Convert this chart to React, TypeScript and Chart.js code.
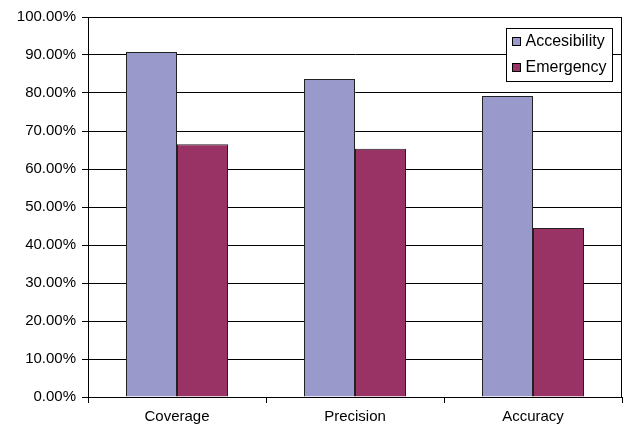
import React, { useEffect, useRef } from "react";
import { Chart, registerables } from "chart.js";

Chart.register(...registerables);

const categories = ["Coverage", "Precision", "Accuracy"];
const accesibility = [90.8, 83.7, 79.2];
const emergency = [66.5, 65.3, 44.5];
const seriesNames = ["Accesibility", "Emergency"];
const seriesColors = ["#9999CC", "#993366"];
const FONT = "'Liberation Sans', Arial, sans-serif";

const frameLegend = {
  id: "frameLegend",
  afterDraw(chart: any) {
    const { ctx, chartArea } = chart;
    ctx.save();
    ctx.strokeStyle = "#000";
    ctx.lineWidth = 1;
    ctx.strokeRect(
      Math.round(chartArea.left) + 0.5,
      Math.round(chartArea.top) + 0.5,
      Math.round(chartArea.right - chartArea.left) - 1,
      Math.round(chartArea.bottom - chartArea.top)
    );
    // legend box
    const bx = Math.round(chartArea.right) - 115.5;
    const by = Math.round(chartArea.top) + 11.5;
    const bw = 106;
    const bh = 53;
    ctx.fillStyle = "#fff";
    ctx.fillRect(bx, by, bw, bh);
    ctx.strokeRect(bx, by, bw, bh);
    ctx.font = `16px ${FONT}`;
    ctx.textBaseline = "middle";
    seriesNames.forEach((name, i) => {
      const cy = by + 13 + i * 26;
      ctx.fillStyle = seriesColors[i];
      ctx.fillRect(bx + 6, cy - 4, 8, 8);
      ctx.strokeStyle = "#000";
      ctx.strokeRect(bx + 6, cy - 4, 8, 8);
      ctx.fillStyle = "#000";
      ctx.fillText(name, bx + 19, cy + 0.5, bw - 22);
    });
    ctx.restore();
  },
};

export default function App() {
  const ref = useRef<HTMLCanvasElement>(null);
  useEffect(() => {
    document.body.style.margin = "0";
    const chart = new Chart(ref.current!, {
      type: "bar",
      data: {
        labels: categories,
        datasets: [
          {
            label: seriesNames[0],
            data: accesibility,
            backgroundColor: seriesColors[0],
            borderColor: "#222",
            borderWidth: 1,
            categoryPercentage: 0.573,
            barPercentage: 1,
          },
          {
            label: seriesNames[1],
            data: emergency,
            backgroundColor: seriesColors[1],
            borderColor: "#222",
            borderWidth: 1,
            categoryPercentage: 0.573,
            barPercentage: 1,
          },
        ],
      },
      options: {
        animation: false,
        responsive: false,
        maintainAspectRatio: false,
        layout: { padding: { top: 17, right: 4, left: 0, bottom: 0 } },
        plugins: { legend: { display: false }, tooltip: { enabled: false } },
        scales: {
          x: {
            offset: true,
            grid: {
              offset: true,
              drawOnChartArea: false,
              drawTicks: true,
              tickLength: 6,
              color: "#000",
            },
            border: { color: "#000" },
            ticks: {
              color: "#000",
              font: { family: FONT, size: 15 },
              padding: 5,
            },
            afterFit(scale: any) {
              scale.height = 31;
            },
          },
          y: {
            min: 0,
            max: 100,
            grid: { color: "#000", tickLength: 6 },
            border: { color: "#000" },
            ticks: {
              stepSize: 10,
              color: "#000",
              font: { family: FONT, size: 15 },
              padding: 6,
              callback: (v: any) => Number(v).toFixed(2) + "%",
            },
            afterFit(scale: any) {
              scale.width = 88;
            },
          },
        },
      },
      plugins: [frameLegend],
    });
    return () => chart.destroy();
  }, []);
  return (
    <div style={{ position: "absolute", left: 0, top: 0, width: 626, height: 428 }}>
      <canvas ref={ref} width={626} height={428} />
    </div>
  );
}
